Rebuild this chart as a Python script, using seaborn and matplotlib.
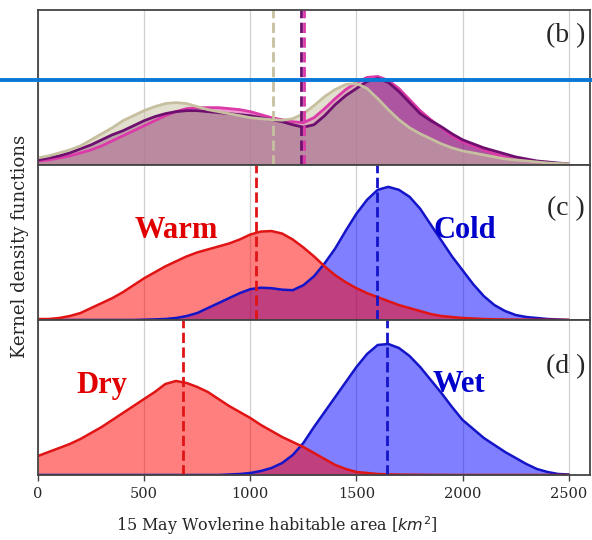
import numpy as np
import pandas as pd
import matplotlib
matplotlib.use("Agg")
import matplotlib.pyplot as plt
import seaborn as sns
from matplotlib.lines import Line2D

# values (relative kernel density, no y scale shown)
# all curves sampled every 50 km2 from 0 to 2500
x_grid = list(range(0, 2501, 50))

# panel (b)
beige_b = [7, 9, 12, 15, 19, 25, 31, 37, 44, 49,
           54, 58, 61, 62, 61, 58, 55, 53, 51, 49,
           47, 46, 45, 44.5, 46, 51, 59, 68, 75, 80,
           81, 76, 66, 55, 45, 37, 31, 26, 21, 17,
           14, 12, 10, 8, 6, 5, 4, 3, 2, 1.5,
           1]
purple_b = [5, 7, 9, 12, 16, 20, 25, 30, 34, 39,
            44, 48, 51, 53, 54, 54, 53, 52, 51, 50,
            49, 47, 45, 43, 40, 37.5, 40, 49, 60, 69,
            76, 83, 86, 82, 73, 62, 51, 44, 38, 31,
            25, 21, 17, 14, 11, 8, 6, 4, 3, 2,
            1]
pink_b = [4, 5, 7, 9, 12, 15, 19, 24, 29, 34,
          39, 44, 49, 53, 56, 57, 57, 57, 56, 55,
          53, 50, 47, 45, 43, 42, 47, 56, 66, 75,
          82, 87, 88, 84, 76, 65, 54, 45, 37, 29,
          23, 19, 15, 11, 8, 6, 4, 3, 2, 1.5,
          1]
means_b = [1105, 1237, 1252]

# panel (c)
warm = [1, 1, 2, 4, 7, 12, 17, 22, 28, 35,
        42, 48, 54, 59, 64, 68, 71, 74, 77, 81,
        86, 89, 89.5, 87, 81, 73, 64, 54, 45, 38,
        32, 27, 23, 19, 15, 12, 9, 6, 4, 3,
        2, 1.5, 1, 0.7, 0.5, 0.4, 0.3, 0.2, 0.2, 0.1,
        0.1]
cold = [0, 0, 0, 0, 0, 0, 0, 0, 0, 0,
        0.3, 0.6, 1, 2, 4, 7, 12, 17, 22, 27,
        31, 32.5, 32, 30.5, 30, 35, 44, 57, 72, 90,
        107, 121, 131, 134, 131, 124, 112, 96, 80, 64,
        50, 36, 24, 15, 9, 5, 3, 2, 1, 0.5,
        0]
mean_warm, mean_cold = 1025, 1599

# panel (d)
dry = [19, 23, 27, 31, 36, 42, 48, 55, 62, 69,
       76, 83, 91, 94, 92, 88, 83, 76, 69, 63,
       57, 50, 44, 38, 33, 28, 22, 16, 10, 6,
       3, 2, 1, 0.6, 0.4, 0.3, 0.2, 0.1, 0.1, 0,
       0, 0, 0, 0, 0, 0, 0, 0, 0, 0,
       0]
wet = [0, 0, 0, 0, 0, 0, 0, 0, 0, 0,
       0, 0, 0, 0, 0, 0, 0, 0, 0.5, 1,
       2, 4, 7, 12, 20, 32, 48, 63, 78, 93,
       108, 121, 130, 131, 127, 119, 108, 95, 82, 68,
       55, 46, 37, 30, 23, 17, 11, 6, 3, 1,
       0.5]
mean_dry, mean_wet = 681, 1646

xticks = [0, 500, 1000, 1500, 2000, 2500]

sns.set_style("white")
plt.rcParams['font.family'] = 'DejaVu Serif'
plt.rcParams['mathtext.fontset'] = 'dejavusans'

fig, axes = plt.subplots(3, 1, figsize=(5.92, 5.40), dpi=100, sharex=True)
fig.subplots_adjust(left=0.0642, right=0.9966, top=0.9815, bottom=0.1204, hspace=0)


def kde_fill(ax, x, y, fc, alpha):
    ax.fill_between(x, y, color=fc, alpha=alpha, lw=0)


def kde_line(ax, x, y, col, lw):
    df = pd.DataFrame({'x': x, 'y': y})
    sns.lineplot(data=df, x='x', y='y', ax=ax, color=col, lw=lw)


lab_font = dict(family='Liberation Serif', fontweight='bold', fontsize=22)
tag_font = dict(family='Liberation Serif', fontsize=20)

# (b)
ax = axes[0]
c_beige, c_purple, c_pink = '#c6c0a0', '#6e0f70', '#dc3aa8'
kde_fill(ax, x_grid, pink_b, c_pink, 0.5)
kde_fill(ax, x_grid, purple_b, c_purple, 0.5)
kde_fill(ax, x_grid, beige_b, c_beige, 0.5)
kde_line(ax, x_grid, pink_b, c_pink, 2)
kde_line(ax, x_grid, purple_b, c_purple, 2)
kde_line(ax, x_grid, beige_b, c_beige, 2)
for m, c in zip(means_b, [c_beige, c_purple, c_pink]):
    ax.axvline(m, color=c, ls='--', lw=2)
ax.set_ylim(0, 154)
ax.text(2485, 129, '(b )', ha='center', va='center', **tag_font)

# (c)
ax = axes[1]
kde_fill(ax, x_grid, cold, 'blue', 0.5)
kde_fill(ax, x_grid, warm, 'red', 0.5)
kde_line(ax, x_grid, cold, '#1414c8', 1.8)
kde_line(ax, x_grid, warm, '#e01414', 1.8)
ax.axvline(mean_warm, color='#e01414', ls='--', lw=2)
ax.axvline(mean_cold, color='#1414c8', ls='--', lw=2)
ax.set_ylim(0, 156)
ax.text(650, 90, 'Warm', ha='center', va='center', color='#e00000', **lab_font)
ax.text(2010, 90, 'Cold', ha='center', va='center', color='#0000cc', **lab_font)
ax.text(2485, 112, '(c )', ha='center', va='center', **tag_font)

# (d)
ax = axes[2]
kde_fill(ax, x_grid, wet, 'blue', 0.5)
kde_fill(ax, x_grid, dry, 'red', 0.5)
kde_line(ax, x_grid, wet, '#1414c8', 1.8)
kde_line(ax, x_grid, dry, '#e01414', 1.8)
ax.axvline(mean_dry, color='#e01414', ls='--', lw=2)
ax.axvline(mean_wet, color='#1414c8', ls='--', lw=2)
ax.set_ylim(0, 155)
ax.text(301, 89, 'Dry', ha='center', va='center', color='#e00000', **lab_font)
ax.text(1983, 90, 'Wet', ha='center', va='center', color='#0000cc', **lab_font)
ax.text(2485, 108, '(d )', ha='center', va='center', **tag_font)

for i, ax in enumerate(axes):
    ax.set_xlim(0, 2600)
    ax.set_xticks(xticks)
    ax.set_yticks([])
    ax.set_xlabel('')
    ax.set_ylabel('')
    ax.grid(axis='x', color='#d0d0d0', lw=0.9)
    ax.set_axisbelow(True)
    for s in ax.spines.values():
        s.set_color('#444444')
        s.set_linewidth(1.3)
    if i < 2:
        ax.tick_params(axis='x', bottom=False, labelbottom=False)
    else:
        ax.tick_params(axis='x', bottom=True, direction='out', length=4,
                       width=1, color='#444444', labelsize=10.5, pad=5)

fig.text(20 / 592, 0.543, 'Kernel density functions', rotation=90,
         ha='center', va='center', fontsize=13)
fig.text(277 / 592, 0.026, r'15 May Wovlerine habitable area [$km^2$]',
         ha='center', va='center', fontsize=11.5)

# blue marker line across the figure
fig.add_artist(Line2D([0, 1], [0.851, 0.851], transform=fig.transFigure,
                      color='#0a78d7', lw=2.8))

fig.savefig('out.png', dpi=100)
